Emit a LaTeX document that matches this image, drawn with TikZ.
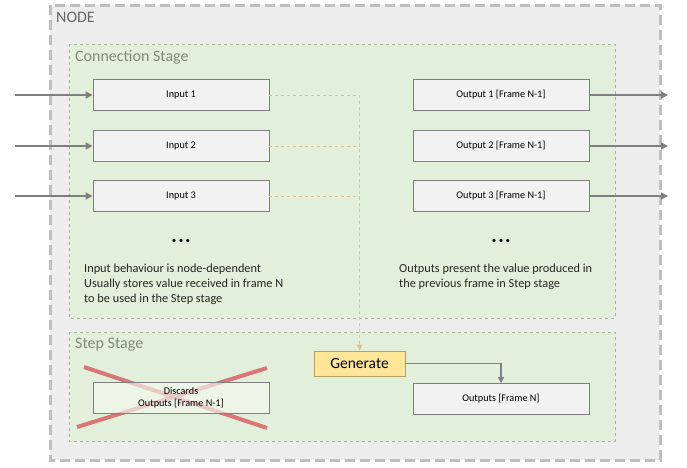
\documentclass[tikz,border=0pt]{standalone}
\usepackage{fontspec}
\setmainfont{Carlito}
\usetikzlibrary{positioning,arrows.meta}

\definecolor{nodegray}{HTML}{EDEDED}
\definecolor{nodeline}{HTML}{BFBFBF}
\definecolor{stagegreen}{HTML}{E2EFDA}
\definecolor{stageline}{HTML}{A9B5A2}
\definecolor{stagetext}{HTML}{7F8A7A}
\definecolor{boxfill}{HTML}{F2F2F2}
\definecolor{boxline}{HTML}{7F7F7F}
\definecolor{genfill}{HTML}{FFE699}
\definecolor{genline}{HTML}{B8A060}
\definecolor{genflow}{HTML}{E2C58E}
\definecolor{crossred}{HTML}{D96B6E}

\tikzset{
  portbox/.style={draw=boxline, fill=boxfill, line width=0.9pt,
    minimum width=176pt, minimum height=31pt, font=\fontsize{10.2}{12}\selectfont},
  genbox/.style={draw=genline, fill=genfill, line width=0.9pt,
    minimum width=91pt, minimum height=25pt, font=\fontsize{15.5}{17}\selectfont},
  flow/.style={draw=boxline, line width=1.6pt, -{Triangle[length=7pt,width=7pt]}},
  genline/.style={draw=genflow, line width=0.8pt, dashed},
  stagetitle/.style={anchor=west, text=stagetext, font=\fontsize{16}{18}\selectfont},
  note/.style={anchor=north west, align=left, text=black!85, font=\fontsize{12.3}{15}\selectfont},
  dots/.style={font=\fontsize{9}{9}\selectfont}
}

\begin{document}
\begin{tikzpicture}[x=1pt,y=-1pt]
	\tikzstyle{every node}+=[inner sep=0pt]
	\useasboundingbox (0,0) rectangle (687,467);
	% node frame
	\draw [nodeline, fill=nodegray, line width=3pt, dash pattern=on 10pt off 5pt] (50,5) rectangle (660,460);
	\node [anchor=west, text=black!60, font=\fontsize{16}{18}\selectfont] (nodetitle) at (56,17) {NODE};
	% stages
	\draw [stageline, fill=stagegreen, line width=0.5pt, dashed] (69,44) rectangle (615,318);
	\node [stagetitle] (conntitle) at (75,57) {Connection Stage};
	\draw [stageline, fill=stagegreen, line width=0.5pt, dashed] (69,332) rectangle (615,441);
	\node [stagetitle] (steptitle) at (75,345) {Step Stage};
	% inputs and outputs
	\node [portbox] (in1) at (181,95) {Input 1};
	\node [portbox] (in2) at (181,146) {Input 2};
	\node [portbox] (in3) at (181,196) {Input 3};
	\node [portbox] (out1) at (501,95) {Output 1 [Frame N-1]};
	\node [portbox] (out2) at (501,146) {Output 2 [Frame N-1]};
	\node [portbox] (out3) at (501,196) {Output 3 [Frame N-1]};
	\coordinate (src1) at (15,95);
	\coordinate (src2) at (15,146);
	\coordinate (src3) at (15,196);
	\coordinate (dst1) at (668,95);
	\coordinate (dst2) at (668,146);
	\coordinate (dst3) at (668,196);
	\draw [flow] (src1) -- (in1);
	\draw [flow] (src2) -- (in2);
	\draw [flow] (src3) -- (in3);
	\draw [flow] (out1) -- (dst1);
	\draw [flow] (out2) -- (dst2);
	\draw [flow] (out3) -- (dst3);
	\node [dots] (indots) at (181,241) {•\hspace{2.5pt}•\hspace{2.5pt}•};
	\node [dots] (outdots) at (501,241) {•\hspace{2.5pt}•\hspace{2.5pt}•};
	\node [note] (innote) at (84,264) {Input behaviour is node-dependent\\Usually stores value received in frame N\\to be used in the Step stage};
	\node [note] (outnote) at (399,264) {Outputs present the value produced in\\the previous frame in Step stage};
	% step stage
	\node [genbox] (gen) at (359.5,363.5) {Generate};
	\draw [genline, -{Triangle[length=6pt,width=6pt]}] (in1.east) -| (gen.north);
	\draw [genline] (in2.east) -- (in2.east -| gen.north);
	\draw [genline] (in3.east) -- (in3.east -| gen.north);
	\draw [crossred, opacity=0.9, line width=4pt] (84,367) -- (267,428);
	\draw [crossred, opacity=0.9, line width=4pt] (77,427) -- (267,368);
	\node [portbox, fill=stagegreen!40!white, fill opacity=0.65, text opacity=1, align=center, font=\fontsize{10.2}{12.5}\selectfont] (discard) at (181,398) {Discards\\Outputs [Frame N-1]};
	\node [portbox] (outN) at (501,399) {Outputs [Frame N]};
	\draw [flow, line width=1.3pt, -{Triangle[length=6pt,width=6pt]}] (gen.east) -| (outN.north);
\end{tikzpicture}
\end{document}
